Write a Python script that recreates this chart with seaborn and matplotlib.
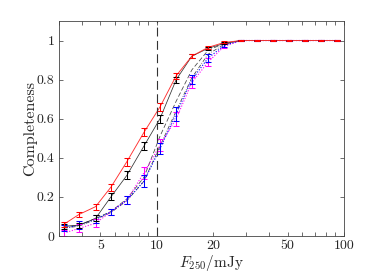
import numpy as np
import pandas as pd
import matplotlib
matplotlib.use("Agg")
import matplotlib.pyplot as plt
import seaborn as sns

# flux bin centres (mJy)
flux = [3.19, 3.84, 4.71, 5.69, 6.92, 8.54, 10.4, 12.7, 15.4, 18.8, 22.9,
        28.2, 34.3, 41.8, 50.9, 62.0, 75.5, 92.0]

red = [0.06, 0.11, 0.15, 0.25, 0.38, 0.53, 0.66, 0.82, 0.92, 0.965, 0.99,
       1, 1, 1, 1, 1, 1, 1]
red_err = [0.012, 0.015, 0.015, 0.018, 0.02, 0.02, 0.02, 0.015, 0.01, 0.008, 0.005,
           0.003, 0.003, 0.003, 0.003, 0.003, 0.003, 0.003]

black = [0.05, 0.055, 0.09, 0.20, 0.31, 0.46, 0.60, 0.80, 0.92, 0.96, 0.985,
         1, 1, 1, 1, 1, 1, 1]
black_err = [0.012, 0.012, 0.015, 0.018, 0.02, 0.02, 0.02, 0.015, 0.01, 0.008, 0.005,
             0.003, 0.003, 0.003, 0.003, 0.003, 0.003, 0.003]

blue = [0.039, 0.056, 0.085, 0.124, 0.184, 0.28, 0.447, 0.625, 0.80, 0.91, 0.975,
        1, 1, 1, 1, 1, 1, 1]
blue_err = [0.015, 0.02, 0.02, 0.015, 0.018, 0.03, 0.03, 0.035, 0.025, 0.02, 0.01,
            0.004, 0.003, 0.003, 0.003, 0.003, 0.003, 0.003]

magenta = [0.014, 0.039, 0.065, 0.124, 0.184, 0.323, 0.464, 0.60, 0.785, 0.89, 0.97,
           1, 1, 1, 1, 1, 1, 1]
magenta_err = [0.015, 0.02, 0.02, 0.015, 0.02, 0.03, 0.03, 0.035, 0.03, 0.02, 0.01,
               0.004, 0.003, 0.003, 0.003, 0.003, 0.003, 0.003]

# model curves without error bars
dash_a = [0.045, 0.055, 0.09, 0.125, 0.19, 0.30, 0.51, 0.69, 0.85, 0.95, 0.985,
          1, 1, 1, 1, 1, 1, 1]
dash_b = [0.04, 0.05, 0.085, 0.12, 0.18, 0.28, 0.46, 0.64, 0.81, 0.93, 0.98,
          1, 1, 1, 1, 1, 1, 1]

flux_cut = 10

xticks = [5, 10, 20, 50, 100]
yticks = [0, 0.2, 0.4, 0.6, 0.8, 1]
ytick_labels = ["0", "0.2", "0.4", "0.6", "0.8", "1"]

sns.set_style("ticks")
plt.rcParams["font.family"] = "serif"
plt.rcParams["font.serif"] = ["cmr10", "DejaVu Serif"]
plt.rcParams["mathtext.fontset"] = "cm"
plt.rcParams["axes.formatter.use_mathtext"] = True

fig = plt.figure(figsize=(3.9, 2.76), dpi=100)
ax = fig.add_axes([0.151, 0.145, 0.731, 0.779])

df = pd.DataFrame({"flux": flux, "red": red, "black": black, "blue": blue,
                   "magenta": magenta, "dash_a": dash_a, "dash_b": dash_b})

sns.lineplot(data=df, x="flux", y="dash_a", ax=ax, color="#444444", lw=0.55,
             linestyle=(0, (6, 3)))
sns.lineplot(data=df, x="flux", y="dash_b", ax=ax, color="#444444", lw=0.55,
             linestyle=(0, (5, 2, 1, 2)))
sns.lineplot(data=df, x="flux", y="magenta", ax=ax, color="#ff00ff", lw=0.8,
             linestyle=(0, (1, 1.5)))
sns.lineplot(data=df, x="flux", y="blue", ax=ax, color="#0000ff", lw=0.8,
             linestyle=(0, (1, 1.5)))
sns.lineplot(data=df, x="flux", y="black", ax=ax, color="#333333", lw=0.55)
sns.lineplot(data=df, x="flux", y="red", ax=ax, color="#ff3030", lw=0.65)

for vals, errs, col in [(magenta, magenta_err, "#ff00ff"), (blue, blue_err, "#0000ff"),
                        (black, black_err, "#000000"), (red, red_err, "#ff0000")]:
    ax.errorbar(flux, vals, yerr=errs, fmt="none", ecolor=col, elinewidth=0.75,
                capsize=2, capthick=0.75)

ax.axvline(flux_cut, color="#333333", lw=0.8, linestyle=(0, (8, 4)))

ax.set_xscale("log")
ax.set_xlim(3, 100)
ax.set_ylim(0, 1.1)
ax.set_xticks(xticks)
ax.set_xticklabels([str(t) for t in xticks])
ax.set_xticks([3, 4, 6, 7, 8, 9, 30, 40, 60, 70, 80, 90], minor=True)
ax.set_xticklabels([], minor=True)
ax.set_yticks(yticks)
ax.set_yticklabels(ytick_labels)

ax.tick_params(which="both", direction="in", top=True, right=True, labelsize=10,
               length=3, width=0.5, color="#333333", pad=3)
for s in ax.spines.values():
    s.set_linewidth(0.6)
    s.set_color("#444444")

ax.set_xlabel(r"$F_{250}/\mathrm{mJy}$", fontsize=11)
ax.set_ylabel("Completeness", fontsize=11.5)
ax.xaxis.set_label_coords(0.535, -0.08)
ax.yaxis.set_label_coords(-0.078, 0.5)

fig.savefig("out.png", dpi=100)
